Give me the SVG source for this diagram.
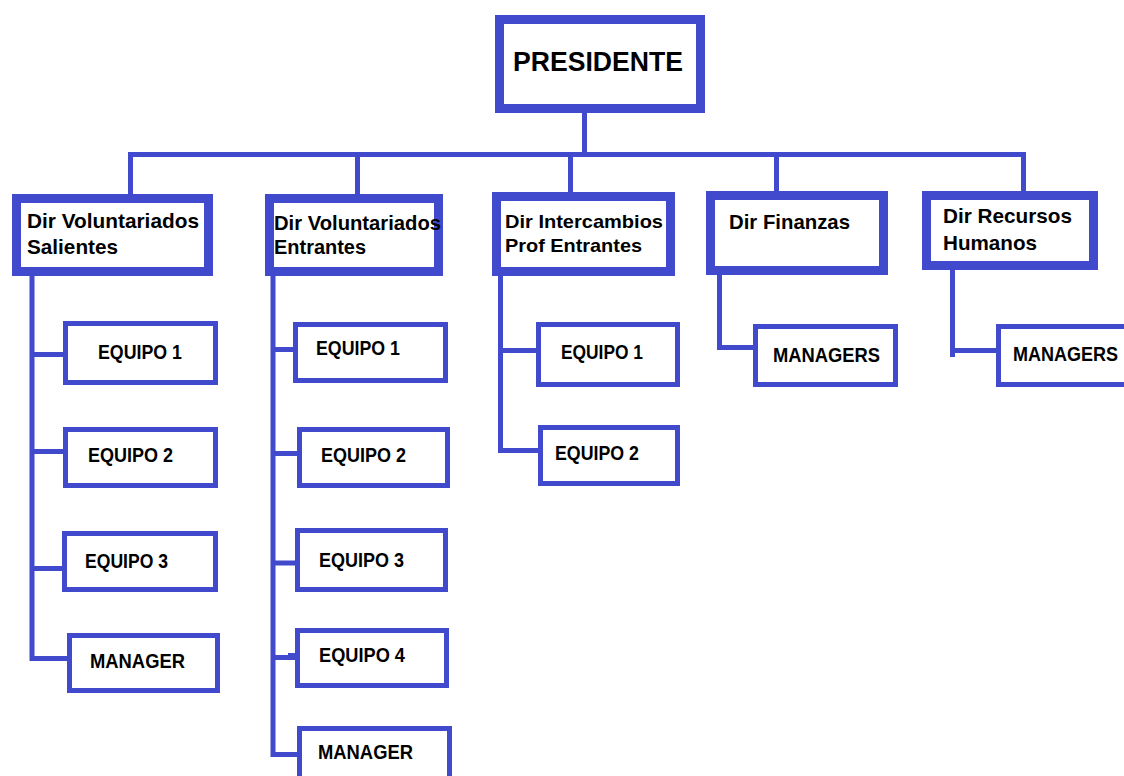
<svg xmlns="http://www.w3.org/2000/svg" width="1124" height="776" viewBox="0 0 1124 776">
<style>
.box{fill:#fff;stroke:#4149CC;stroke-width:9}
.sub{fill:#fff;stroke:#4149CC;stroke-width:5}
.ln{fill:none;stroke:#4149CC;stroke-width:5;stroke-linejoin:miter;stroke-linecap:butt}
text{font-family:"Liberation Sans",Arial,sans-serif;font-weight:bold;fill:#000}
.t21{font-size:21px}
.t20{font-size:20px}
.t19{font-size:19px}
.ts{font-size:20px}
</style>
<rect width="1124" height="776" fill="#fff"/>
<g id="connectors">
<path class="ln" d="M584.5,113 V154.5"/>
<path class="ln" d="M130.5,194 V154.5 H1023.5 V191"/>
<path class="ln" d="M357.5,154.5 V194"/>
<path class="ln" d="M570.5,154.5 V192"/>
<path class="ln" d="M776.5,154.5 V191"/>
<path class="ln" d="M32,276 V658.5 H67"/>
<path class="ln" d="M32,354.5 H63 M32,451.5 H63 M32,568.5 H62"/>
<path class="ln" d="M273,276 V754.5 H297"/>
<path class="ln" d="M273,349.5 H293 M273,453.5 H297 M273,563 H295 M273,657.5 H295"/>
<path class="ln" d="M288,655.5 H300"/>
<path class="ln" d="M500.5,276 V450.5 H538"/>
<path class="ln" d="M500.5,350.5 H536"/>
<path class="ln" d="M719.5,275 V347.5 H760"/>
<path class="ln" d="M952.5,270 V357"/>
<path class="ln" d="M952.5,350.5 H996"/>
</g>
<g id="presidente">
<rect class="box" x="499.5" y="19.5" width="201" height="89"/>
<text x="513" y="71" font-size="27" textLength="170" lengthAdjust="spacingAndGlyphs">PRESIDENTE</text>
</g>
<g id="dir-vol-salientes">
<rect class="box" x="16.5" y="198.5" width="192" height="73"/>
<text class="t21" x="27" y="228" textLength="172" lengthAdjust="spacingAndGlyphs">Dir Voluntariados</text>
<text class="t21" x="27" y="254" textLength="91" lengthAdjust="spacingAndGlyphs">Salientes</text>
</g>
<g id="dir-vol-entrantes">
<rect class="box" x="269.5" y="198.5" width="169" height="73"/>
<text class="t20" x="274" y="230" textLength="167" lengthAdjust="spacingAndGlyphs">Dir Voluntariados</text>
<text class="t20" x="274" y="254" textLength="92" lengthAdjust="spacingAndGlyphs">Entrantes</text>
</g>
<g id="dir-intercambios">
<rect class="box" x="496.5" y="196.5" width="174" height="75"/>
<text class="t19" x="505" y="228" textLength="158" lengthAdjust="spacingAndGlyphs">Dir Intercambios</text>
<text class="t19" x="505" y="252" textLength="137" lengthAdjust="spacingAndGlyphs">Prof Entrantes</text>
</g>
<g id="dir-finanzas">
<rect class="box" x="710.5" y="195.5" width="173" height="75"/>
<text class="t21" x="729" y="229" textLength="121" lengthAdjust="spacingAndGlyphs">Dir Finanzas</text>
</g>
<g id="dir-rrhh">
<rect class="box" x="926.5" y="195.5" width="167" height="70"/>
<text class="t21" x="943" y="223" textLength="129" lengthAdjust="spacingAndGlyphs">Dir Recursos</text>
<text class="t21" x="943" y="250" textLength="94" lengthAdjust="spacingAndGlyphs">Humanos</text>
</g>
<g id="c1-equipo1">
<rect class="sub" x="65.5" y="323.5" width="150" height="59"/>
<text class="ts" x="98" y="359" textLength="84" lengthAdjust="spacingAndGlyphs">EQUIPO 1</text>
</g>
<g id="c1-equipo2">
<rect class="sub" x="65.5" y="429.5" width="150" height="56"/>
<text class="ts" x="88" y="462" textLength="85" lengthAdjust="spacingAndGlyphs">EQUIPO 2</text>
</g>
<g id="c1-equipo3">
<rect class="sub" x="64.5" y="533.5" width="151" height="56"/>
<text class="ts" x="85" y="568" textLength="83" lengthAdjust="spacingAndGlyphs">EQUIPO 3</text>
</g>
<g id="c1-manager">
<rect class="sub" x="69.5" y="635.5" width="148" height="55"/>
<text class="ts" x="90" y="668" textLength="95" lengthAdjust="spacingAndGlyphs">MANAGER</text>
</g>
<g id="c2-equipo1">
<rect class="sub" x="295.5" y="324.5" width="150" height="56"/>
<text class="ts" x="316" y="355" textLength="84" lengthAdjust="spacingAndGlyphs">EQUIPO 1</text>
</g>
<g id="c2-equipo2">
<rect class="sub" x="299.5" y="429.5" width="148" height="56"/>
<text class="ts" x="321" y="462" textLength="85" lengthAdjust="spacingAndGlyphs">EQUIPO 2</text>
</g>
<g id="c2-equipo3">
<rect class="sub" x="297.5" y="530.5" width="148" height="59"/>
<text class="ts" x="319" y="567" textLength="85" lengthAdjust="spacingAndGlyphs">EQUIPO 3</text>
</g>
<g id="c2-equipo4">
<rect class="sub" x="297.5" y="630.5" width="149" height="55"/>
<text class="ts" x="319" y="662" textLength="86" lengthAdjust="spacingAndGlyphs">EQUIPO 4</text>
</g>
<g id="c2-manager">
<rect class="sub" x="299.5" y="728.5" width="150" height="60"/>
<text class="ts" x="318" y="759" textLength="95" lengthAdjust="spacingAndGlyphs">MANAGER</text>
</g>
<g id="c3-equipo1">
<rect class="sub" x="538.5" y="324.5" width="139" height="60"/>
<text class="ts" x="561" y="359" textLength="82" lengthAdjust="spacingAndGlyphs">EQUIPO 1</text>
</g>
<g id="c3-equipo2">
<rect class="sub" x="540.5" y="427.5" width="137" height="56"/>
<text class="ts" x="555" y="460" textLength="84" lengthAdjust="spacingAndGlyphs">EQUIPO 2</text>
</g>
<g id="c4-managers">
<rect class="sub" x="755.5" y="326.5" width="140" height="58"/>
<text class="ts" x="773" y="362" textLength="107" lengthAdjust="spacingAndGlyphs">MANAGERS</text>
</g>
<g id="c5-managers">
<rect class="sub" x="998.5" y="326.5" width="140" height="58"/>
<text class="ts" x="1013" y="361" textLength="105" lengthAdjust="spacingAndGlyphs">MANAGERS</text>
</g>
</svg>
